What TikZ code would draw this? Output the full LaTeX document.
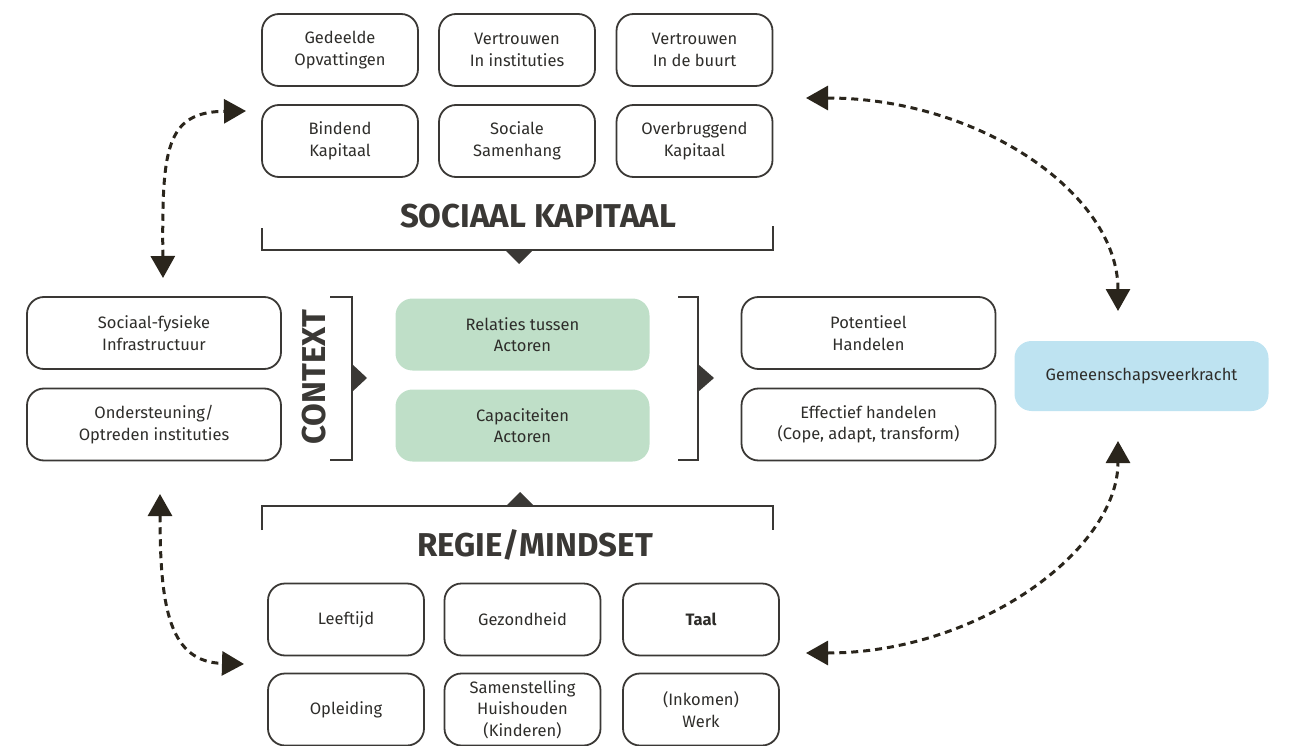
\documentclass[tikz,border=0pt]{standalone}
\usepackage{fontspec}
\setmainfont{Fira Sans}
\usetikzlibrary{arrows.meta,positioning}
\definecolor{ink}{HTML}{3A3835}
\definecolor{groen}{HTML}{BFDFC8}
\definecolor{blauw}{HTML}{BEE3F1}
\definecolor{pijl}{HTML}{2A251C}

\begin{document}
\begin{tikzpicture}[x=1pt, y=-1pt,
    factor/.style = {draw=ink, line width=1.8pt, rounded corners=17pt, minimum width=156pt,
                     minimum height=72pt, align=center, text=ink!80!black, inner sep=0pt,
                     font=\fontsize{16.5}{21.5}\selectfont},
    breed/.style = {factor, minimum width=254pt},
    actor/.style = {breed, draw=none, fill=groen},
    doel/.style = {breed, draw=none, fill=blauw, minimum height=70pt},
    kop/.style = {font=\fontsize{33}{38}\selectfont\bfseries, text=ink},
    haak/.style = {draw=ink, line width=2pt},
    wissel/.style = {draw=pijl, line width=3pt, dash pattern=on 7pt off 5pt,
                     {Triangle[length=22pt,width=24pt]}-{Triangle[length=22pt,width=24pt]}}]
    \useasboundingbox (0,0) rectangle (1290,746);

    % sociaal kapitaal
    \node[factor] (opv) at (340,50) {Gedeelde\\Opvattingen};
    \node[factor] (inst) at (517,50) {Vertrouwen\\In instituties};
    \node[factor] (buurt) at (694.5,50) {Vertrouwen\\In de buurt};
    \node[factor] (bind) at (340,141) {Bindend\\Kapitaal};
    \node[factor] (samen) at (517,141) {Sociale\\Samenhang};
    \node[factor] (brug) at (694.5,141) {Overbruggend\\Kapitaal};
    \node[kop] (sk) at (538,216) {SOCIAAL KAPITAAL};
    \draw[haak] (262,228) |- (773,250) -- (773,226);
    \fill[ink] (505,250) -- (533,250) -- (519,264) -- cycle;

    % context
    \node[breed] (infra) at (154,333) {Sociaal-fysieke\\Infrastructuur};
    \node[breed] (steun) at (154,424.5) {Ondersteuning/\\Optreden instituties};
    \node[kop, rotate=90] (ctx) at (314,377) {CONTEXT};
    \draw[haak] (330,297) -- (352,297) -- (352,460) -- (330,460);
    \fill[ink] (352,364) -- (367,378) -- (352,392) -- cycle;

    % actoren
    \node[actor] (rel) at (522.5,334.5) {Relaties tussen\\Actoren};
    \node[actor] (cap) at (522.5,425.5) {Capaciteiten\\Actoren};
    \draw[haak] (678,297) -- (698,297) -- (698,460) -- (678,460);
    \fill[ink] (698,364) -- (714,378) -- (698,392) -- cycle;

    % handelen
    \node[breed] (pot) at (868.5,333) {Potentieel\\Handelen};
    \node[breed] (eff) at (868.5,424.5) {Effectief handelen\\(Cope, adapt, transform)};
    \node[doel] (veer) at (1141.5,376) {Gemeenschapsveerkracht};

    % regie/mindset
    \fill[ink] (506,506) -- (534,506) -- (520,492) -- cycle;
    \draw[haak] (262,530) |- (773,506) -- (773,530);
    \node[kop] (rm) at (535,545) {REGIE/MINDSET};
    \node[factor] (leef) at (346,619.5) {Leeftijd};
    \node[factor] (gez) at (522.5,619.5) {Gezondheid};
    \node[factor] (taal) at (701,619.5) {\bfseries Taal};
    \node[factor] (opl) at (346,709.5) {Opleiding};
    \node[factor] (huis) at (522.5,709.5) {Samenstelling\\Huishouden\\(Kinderen)};
    \node[factor] (werk) at (701,709.5) {(Inkomen)\\Werk};

    % wisselwerking
    \coordinate (lb) at (163,278);
    \coordinate (rb) at (246,111);
    \coordinate (lo) at (160,494);
    \coordinate (ro) at (244,664);
    \coordinate (kb) at (806,98);
    \coordinate (vb) at (1118,311);
    \coordinate (ko) at (806,653);
    \coordinate (vo) at (1118,441);
    \draw[wissel] (lb) .. controls (162,150) and (165,112) .. (rb);
    \draw[wissel] (lo) .. controls (160,610) and (170,662) .. (ro);
    \draw[wissel] (kb) .. controls (978,98) and (1118,193) .. (vb);
    \draw[wissel] (ko) .. controls (978,653) and (1118,550) .. (vo);
\end{tikzpicture}
\end{document}
